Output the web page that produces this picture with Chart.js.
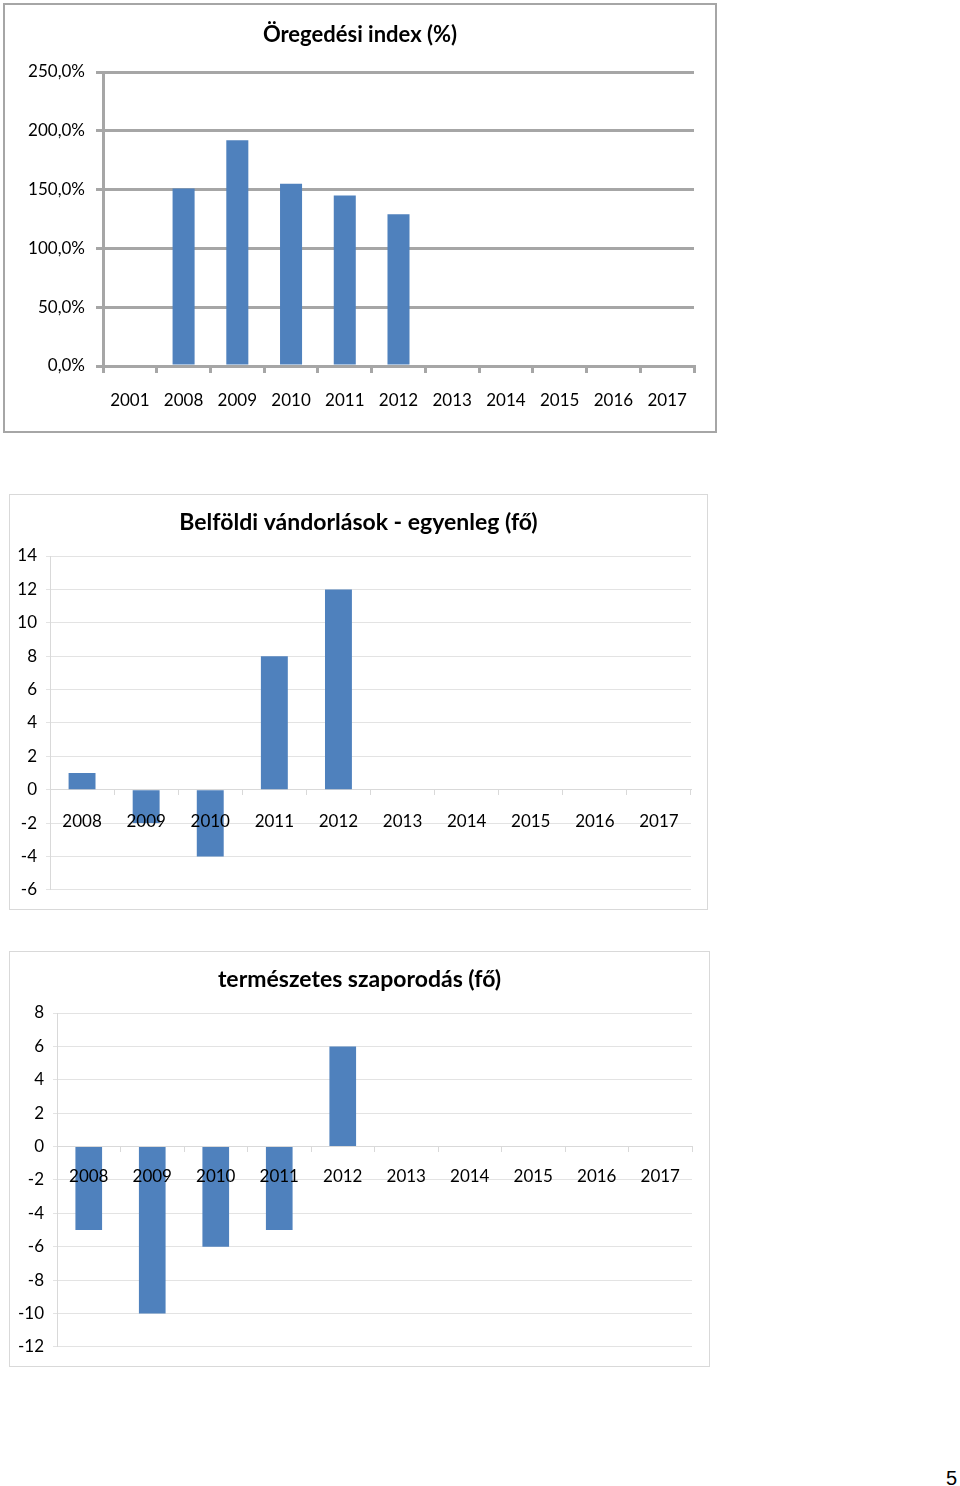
<!DOCTYPE html>
<html>
<head>
<meta charset="utf-8">
<script src="https://cdn.jsdelivr.net/npm/chart.js@4.4.0/dist/chart.umd.min.js"></script>
<style>
body { margin: 0; background: #fff; }
#page { position: relative; width: 960px; height: 1486px; }
.box { position: absolute; box-sizing: border-box; }
.box canvas { display: block; }
#pnum { position: absolute; left: 946px; top: 1467px; font: 20px "Liberation Sans", Arial, sans-serif; }
</style>
</head>
<body>
<div id="page">
  <div class="box" style="left:3px;top:3px;width:714px;height:430px;border:2px solid #a6a6a6;">
    <canvas id="c1" width="710" height="426"></canvas>
  </div>
  <div class="box" style="left:9px;top:494px;width:699px;height:416px;border:1px solid #d9d9d9;">
    <canvas id="c2" width="697" height="414"></canvas>
  </div>
  <div class="box" style="left:9px;top:951px;width:701px;height:416px;border:1px solid #d9d9d9;">
    <canvas id="c3" width="699" height="414"></canvas>
  </div>
  <div id="pnum">5</div>
</div>
<script>
// Öregedési index (%)
const years1 = ['2001', '2008', '2009', '2010', '2011', '2012', '2013', '2014', '2015', '2016', '2017'];
const index1 = [null, 151, 192, 155, 145, 129, null, null, null, null, null];

// Belföldi vándorlások - egyenleg (fő)
const years2 = ['2008', '2009', '2010', '2011', '2012', '2013', '2014', '2015', '2016', '2017'];
const migr2 = [1, -2, -4, 8, 12, null, null, null, null, null];

// természetes szaporodás (fő)
const years3 = ['2008', '2009', '2010', '2011', '2012', '2013', '2014', '2015', '2016', '2017'];
const nat3 = [-5, -10, -6, -5, 6, null, null, null, null, null];

Chart.defaults.font.family = 'Lato';
Chart.defaults.color = '#000';
Chart.defaults.animation = false;
Chart.defaults.plugins.legend.display = false;
Chart.defaults.plugins.tooltip.enabled = false;

const blue = '#4F81BD';

// empty axis on the right, only keeps the plot off the right edge so the title stays centred
function spacer(w) {
    return {
        position: 'right',
        afterFit: s => { s.width = w; },
        grid: { display: false },
        border: { display: false },
        ticks: { display: false }
    };
}

new Chart(document.getElementById('c1'), {
    type: 'bar',
    data: {
        labels: years1,
        datasets: [{
            data: index1,
            backgroundColor: blue,
            borderWidth: 0,
            categoryPercentage: 1,
            barPercentage: 0.41
        }]
    },
    options: {
        responsive: false,
        layout: { padding: { top: 17, left: 0, right: 0, bottom: 0 } },
        plugins: {
            title: {
                display: true,
                text: 'Öregedési index (%)',
                font: { size: 22, weight: 'bold' },
                padding: { top: 0, bottom: 23.6 }
            }
        },
        scales: {
            x: {
                afterFit: s => { s.height = 65; },
                grid: { offset: true, drawOnChartArea: false, tickLength: 7, color: '#a6a6a6', lineWidth: 3 },
                border: { color: '#a6a6a6', width: 3 },
                ticks: { font: { size: 17 }, padding: 17, maxRotation: 0, autoSkip: false }
            },
            y: {
                min: 0, max: 250,
                afterFit: s => { s.width = 98; },
                grid: { color: '#a6a6a6', lineWidth: 3, tickLength: 7 },
                border: { color: '#a6a6a6', width: 3 },
                ticks: {
                    stepSize: 50, padding: 11, font: { size: 17 },
                    callback: v => v.toFixed(1).replace('.', ',') + '%'
                }
            },
            pad: spacer(21)
        }
    }
});

function smallChart(id, labels, values, title, ymin, ymax, yw, rw, xpad) {
    return new Chart(document.getElementById(id), {
        type: 'bar',
        data: {
            labels: labels,
            datasets: [{
                data: values,
                backgroundColor: blue,
                borderWidth: 0,
                categoryPercentage: 1,
                barPercentage: 0.42
            }]
        },
        options: {
            responsive: false,
            layout: { padding: { top: 14, left: 0, right: 0, bottom: 17 } },
            plugins: {
                title: {
                    display: true,
                    text: title,
                    font: { size: 23, weight: 'bold' },
                    padding: { top: 0, bottom: 19.4 }
                }
            },
            scales: {
                x: {
                    position: { y: 0 },
                    grid: { offset: true, drawOnChartArea: false, tickLength: 5, color: '#d9d9d9' },
                    border: { color: '#d9d9d9' },
                    ticks: { z: 1, font: { size: 17 }, padding: xpad, maxRotation: 0, autoSkip: false }
                },
                y: {
                    min: ymin, max: ymax,
                    afterFit: s => { s.width = yw; },
                    grid: { color: '#e3e3e3', tickLength: 4 },
                    border: { color: '#d9d9d9' },
                    ticks: { stepSize: 2, padding: 9, font: { size: 17 } }
                },
                pad: spacer(rw)
            }
        }
    });
}

smallChart('c2', years2, migr2, 'Belföldi vándorlások - egyenleg (fő)', -6, 14, 40, 16, 17);
smallChart('c3', years3, nat3, 'természetes szaporodás (fő)', -12, 8, 47, 17, 15);
</script>
</body>
</html>
